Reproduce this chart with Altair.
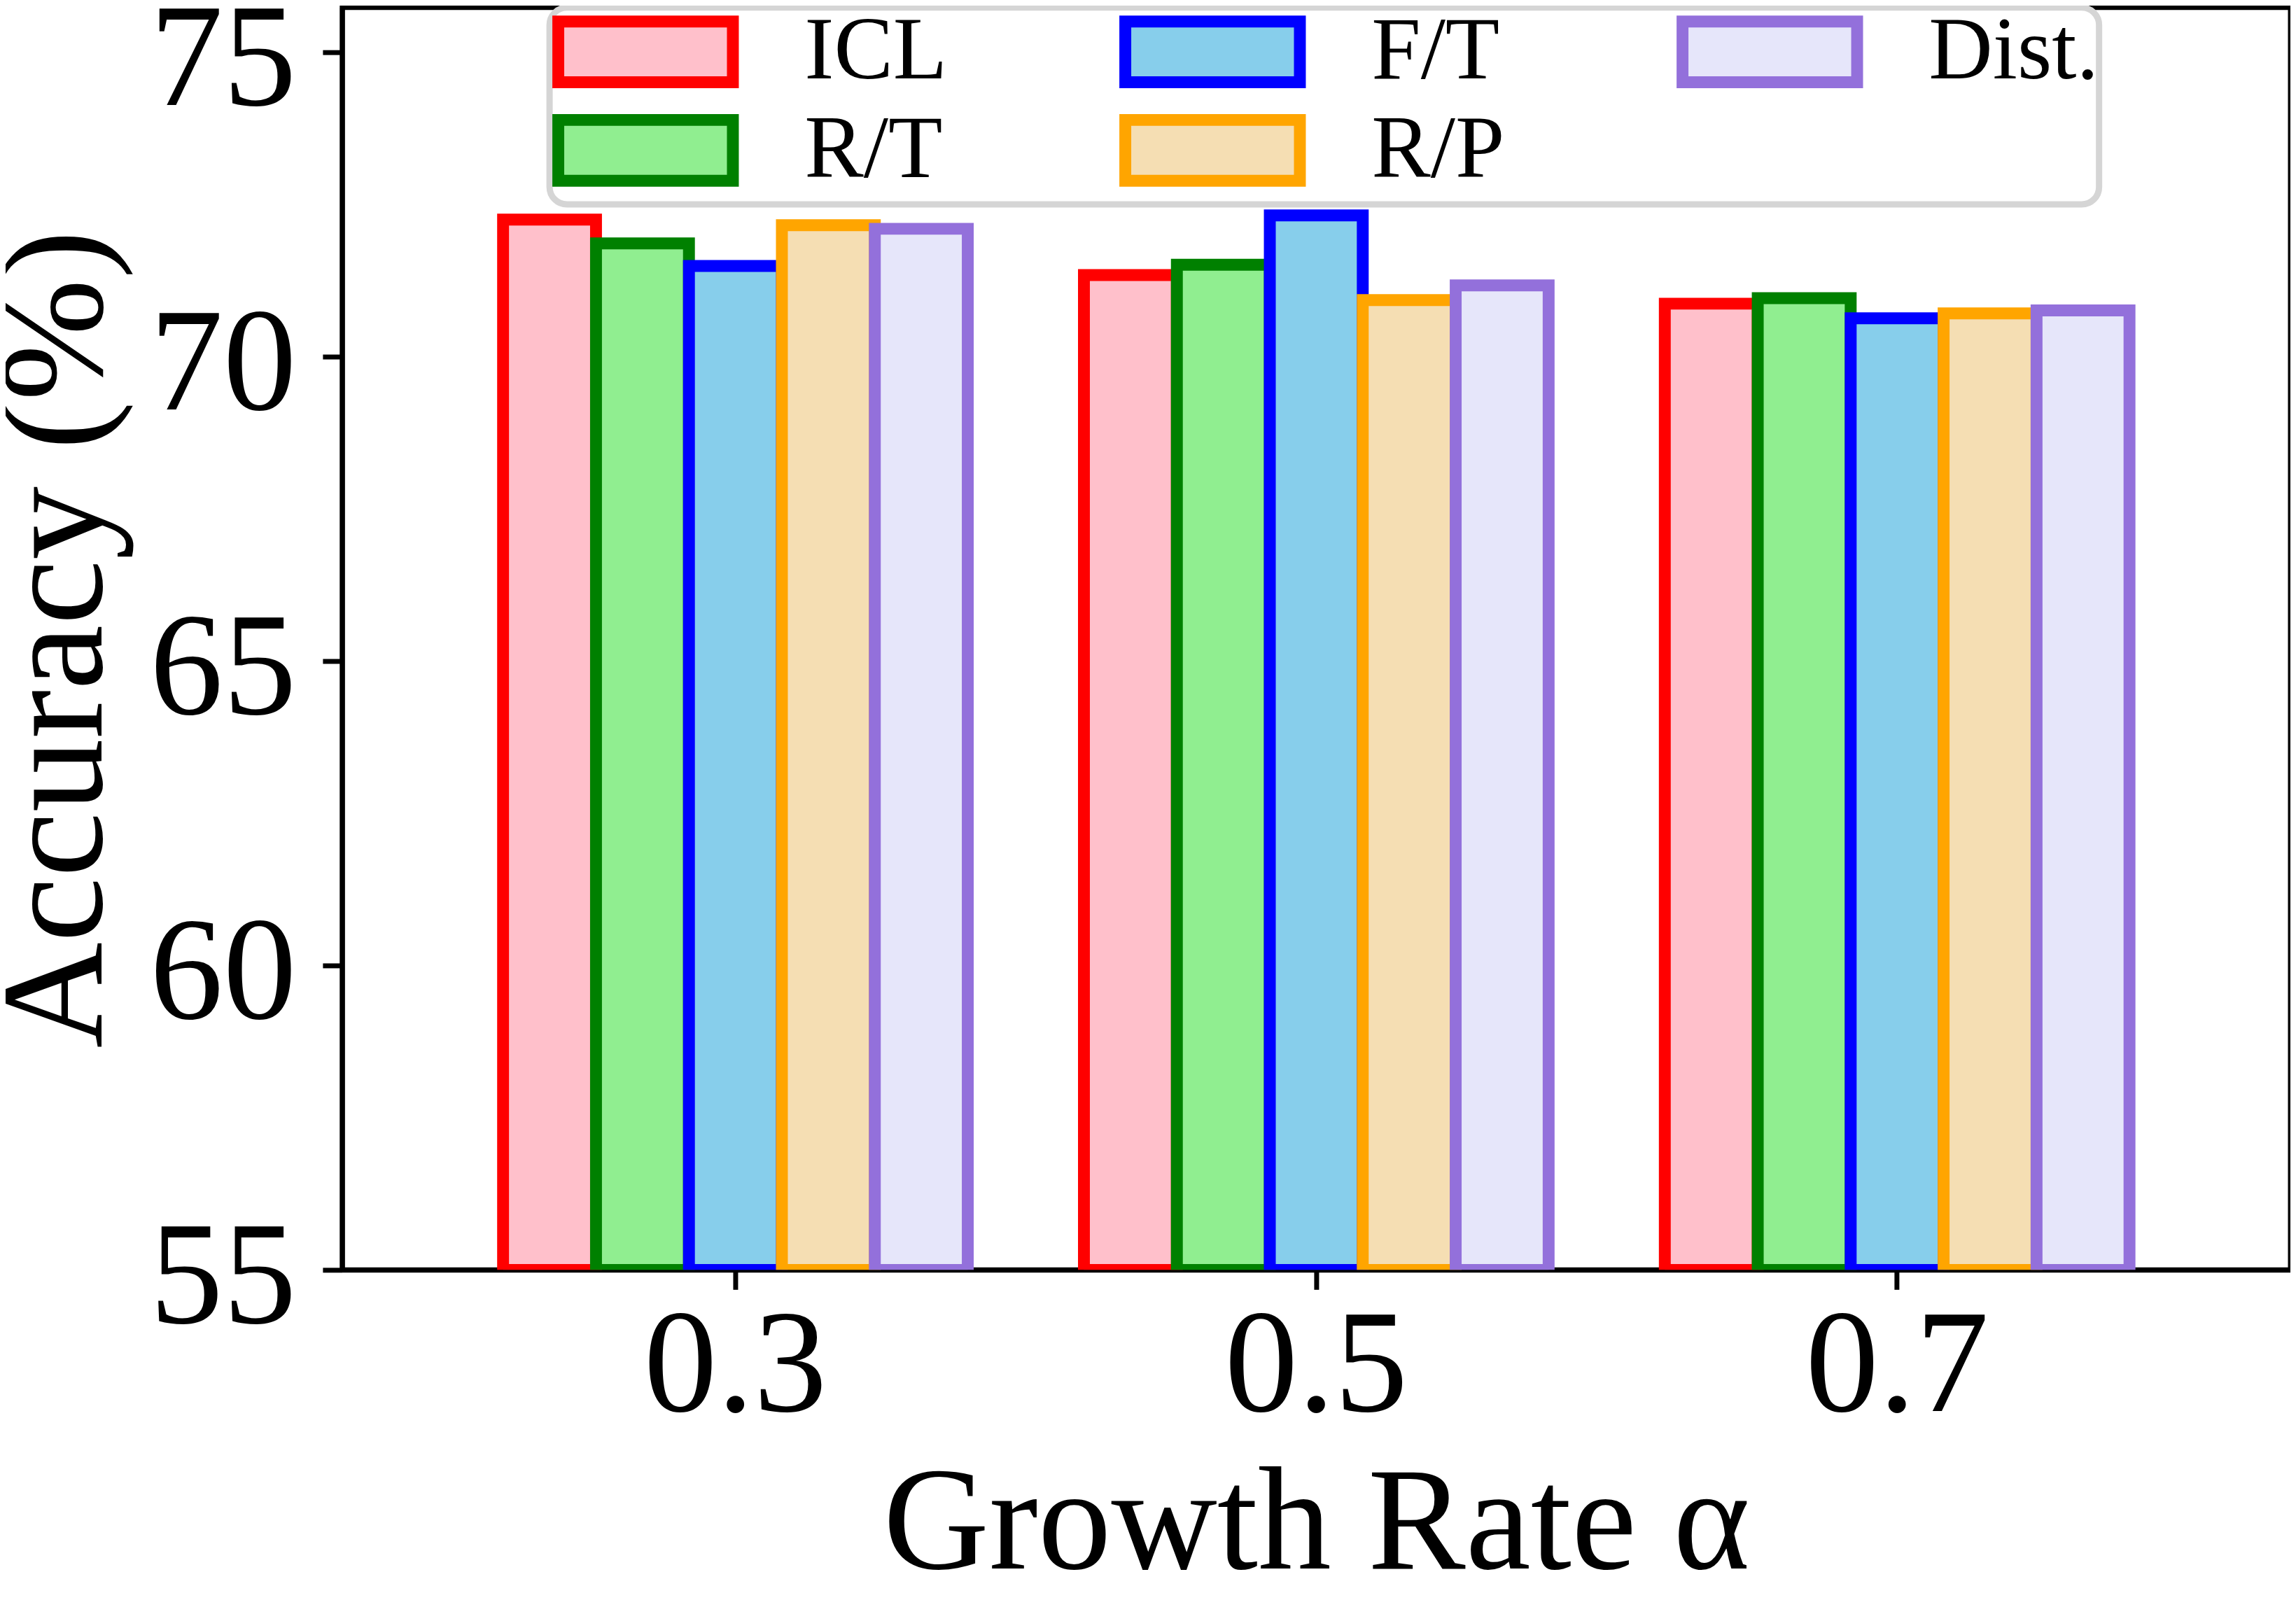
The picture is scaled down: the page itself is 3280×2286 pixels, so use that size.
import altair as alt
import pandas as pd

# ---- data ----
groups = ["0.3", "0.5", "0.7"]
series = ["ICL", "R/T", "F/T", "R/P", "Dist."]
icl = [72.25, 71.34, 70.87]
rt = [71.86, 71.51, 70.96]
ft = [71.49, 72.32, 70.63]
rp = [72.16, 70.93, 70.71]
dist = [72.10, 71.17, 70.76]
series_values = [icl, rt, ft, rp, dist]

edge_colors = ["#ff0000", "#008000", "#0000ff", "#ffa500", "#9370db"]
face_colors = ["#ffc0cb", "#90ee90", "#87ceeb", "#f5deb3", "#e6e6fa"]
y_ticks = [55, 60, 65, 70, 75]

rows = []
for s, vals in zip(series, series_values):
    for g, v in zip(groups, vals):
        rows.append({"group": g, "series": s, "acc": v})
df = pd.DataFrame(rows)

FONT = "Liberation Serif"

fill_scale = alt.Scale(domain=series, range=face_colors)
stroke_scale = alt.Scale(domain=series, range=edge_colors)

chart = (
    alt.Chart(df)
    .mark_bar(strokeWidth=17, clip=True)
    .encode(
        x=alt.X(
            "group:N",
            sort=groups,
            scale=alt.Scale(paddingInner=0.2, paddingOuter=0.277),
            axis=alt.Axis(title="Growth Rate α", labelAngle=0, labelPadding=8, titlePadding=17),
        ),
        xOffset=alt.XOffset(
            "series:N", sort=series, scale=alt.Scale(paddingInner=0, paddingOuter=0)
        ),
        y=alt.Y(
            "acc:Q",
            scale=alt.Scale(domain=[55, 75.734], nice=False, zero=False),
            axis=alt.Axis(
                title="Accuracy (%)",
                values=y_ticks,
                labelPadding=38,
                labelOffset=12,
                titlePadding=25,
            ),
        ),
        y2=alt.datum(55),
        fill=alt.Fill("series:N", scale=fill_scale, legend=alt.Legend(title=None)),
        stroke=alt.Stroke("series:N", scale=stroke_scale, legend=alt.Legend(title=None)),
    )
    .properties(
        width=2790,
        height=1808,
        padding={"left": 482, "top": 0, "right": 0, "bottom": 470},
        autosize=alt.AutoSizeParams(type="none"),
    )
    .configure_view(stroke="black", strokeWidth=7)
    .configure_axis(
        labelFont=FONT,
        titleFont=FONT,
        labelFontSize=210,
        titleFontSize=210,
        titleFontWeight="normal",
        labelColor="black",
        titleColor="black",
        tickColor="black",
        domainColor="black",
        tickSize=28,
        tickWidth=7,
        domainWidth=7,
        grid=False,
        labelLimit=1000,
        maxExtent=1000,
        zindex=1,
    )
    .configure_legend(
        orient="none",
        legendX=297,
        legendY=0,
        columns=3,
        columnPadding=220,
        rowPadding=-41,
        gridAlign="each",
        padding=0,
        strokeColor="#d5d5d5",
        strokeWidth=9,
        cornerRadius=25,
        fillColor="white",
        symbolType="M-2.874,-1H2.874V1H-2.874Z",
        symbolSize=7569,
        symbolStrokeWidth=17,
        symbolOffset=74,
        labelOffset=164,
        labelFont=FONT,
        labelFontSize=127,
        labelColor="black",
        labelLimit=1000,
    )
)

chart.save("out.html", embed_options={"renderer": "svg", "actions": False})
